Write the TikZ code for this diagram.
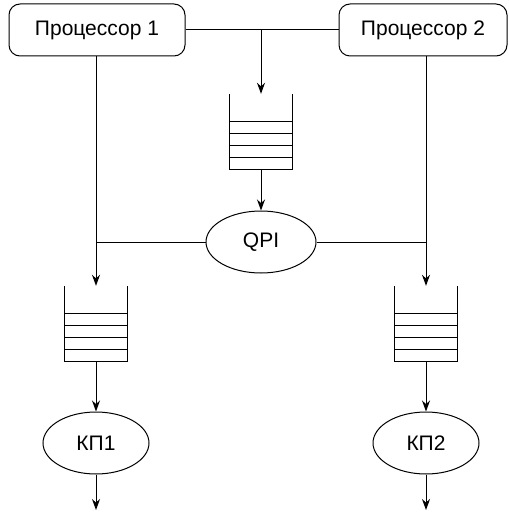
\documentclass[tikz,border=0pt]{standalone}
\usepackage{fontspec}
\setmainfont{Liberation Sans}
\usetikzlibrary{shapes.geometric,arrows.meta}
\newcommand{\drawqueue}[1]{%
  \draw[line] (#1.north west) -- (#1.south west) -- (#1.south east) -- (#1.north east);
  \foreach \k in {12,24,36,48}{
    \draw[line] ([yshift=\k pt]#1.south west) -- ([yshift=\k pt]#1.south east);
  }
}
\begin{document}
\begin{tikzpicture}[x=1pt,y=-1pt,
  line/.style={draw=black,line width=1pt},
  arr/.style={line,-{Stealth[length=11pt,width=8pt]}},
  proc/.style={draw=black,line width=1pt,rounded corners=11pt,minimum height=52pt,inner sep=0pt,font=\fontsize{21}{24}\selectfont},
  oval/.style={draw=black,line width=1pt,ellipse,inner sep=0pt,font=\fontsize{21}{24}\selectfont},
  queuebox/.style={inner sep=0pt,minimum width=62pt,minimum height=75pt}]
\useasboundingbox (0,0) rectangle (508,513);
\node[proc,minimum width=176pt] (p1) at (97,30) {Процессор 1};
\node[proc,minimum width=168pt] (p2) at (423,30) {Процессор 2};
\node[queuebox] (q0) at (261,131.5) {};
\node[queuebox] (q1) at (96,323.5) {};
\node[queuebox] (q2) at (426,323.5) {};
\node[oval,minimum width=110pt,minimum height=62pt] (qpi) at (261,242) {QPI};
\node[oval,minimum width=106pt,minimum height=62pt] (kp1) at (96,443) {КП1};
\node[oval,minimum width=106pt,minimum height=62pt] (kp2) at (426,443) {КП2};
\coordinate (j0) at (261,30);
\coordinate (jl) at (97,242);
\coordinate (jr) at (427,242);
\coordinate (o1) at (96,510);
\coordinate (o2) at (426,510);
\drawqueue{q0}
\drawqueue{q1}
\drawqueue{q2}
\draw[line] (p1.east) -- (p2.west);
\draw[arr] (j0) -- (q0.north);
\draw[arr] (q0.south) -- (qpi.north);
\draw[arr] (p1.south -| q1.north) -- (q1.north);
\draw[arr] (p2.south -| q2.north) -- (q2.north);
\draw[line] (qpi.west) -- (jl);
\draw[line] (qpi.east) -- (jr);
\draw[arr] (q1.south) -- (kp1.north);
\draw[arr] (q2.south) -- (kp2.north);
\draw[arr] (kp1.south) -- (o1);
\draw[arr] (kp2.south) -- (o2);
\end{tikzpicture}
\end{document}
